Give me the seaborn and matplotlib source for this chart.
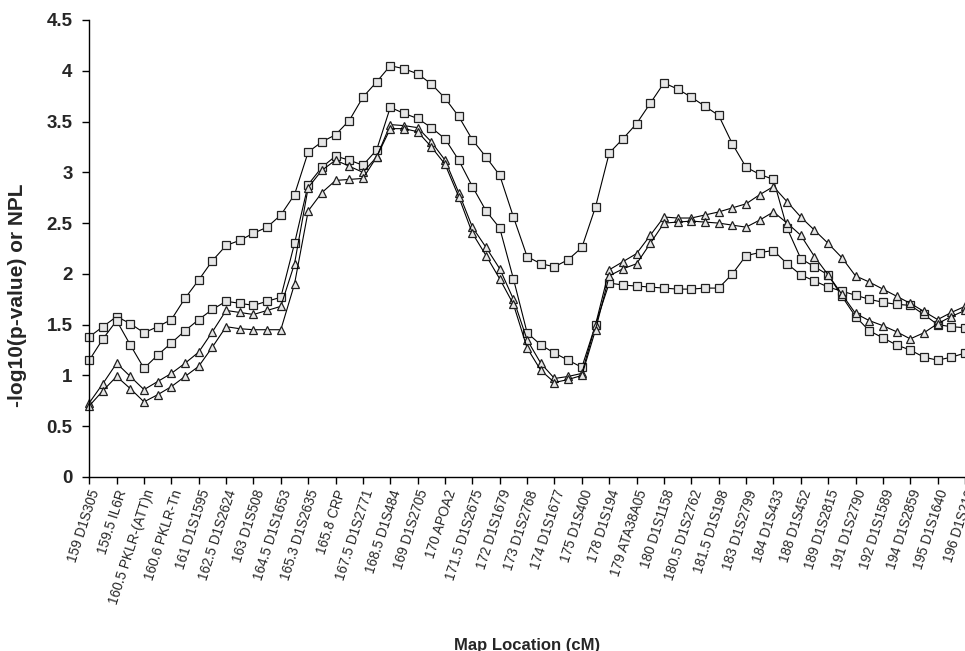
import numpy as np
import pandas as pd
import matplotlib
matplotlib.use("Agg")
import matplotlib.pyplot as plt
import seaborn as sns

# ---- data -------------------------------------------------------------
tick_labels = [
    "159 D1S305", "159.5 IL6R", "160.5 PKLR-(ATT)n", "160.6 PKLR-Tn",
    "161 D1S1595", "162.5 D1S2624", "163 D1S508", "164.5 D1S1653",
    "165.3 D1S2635", "165.8 CRP", "167.5 D1S2771", "168.5 D1S484",
    "169 D1S2705", "170 APOA2", "171.5 D1S2675", "172 D1S1679",
    "173 D1S2768", "174 D1S1677", "175 D1S400", "178 D1S194",
    "179 ATA38A05", "180 D1S1158", "180.5 D1S2762", "181.5 D1S198",
    "183 D1S2799", "184 D1S433", "188 D1S452", "189 D1S2815",
    "191 D1S2790", "192 D1S1589", "194 D1S2859", "195 D1S1640",
    "196 D1S212",
]

# values read at every half category step (0, 0.5, 1, ... 32)
series_a = [1.38, 1.48, 1.58, 1.51, 1.42, 1.48, 1.55, 1.76, 1.94, 2.13,
            2.28, 2.33, 2.40, 2.46, 2.58, 2.78, 3.20, 3.30, 3.37, 3.51,
            3.74, 3.89, 4.05, 4.02, 3.97, 3.87, 3.73, 3.55, 3.32, 3.15,
            2.97, 2.56, 2.17, 2.10, 2.07, 2.14, 2.26, 2.66, 3.19, 3.33,
            3.48, 3.68, 3.88, 3.82, 3.74, 3.65, 3.56, 3.28, 3.05, 2.98,
            2.93, 2.45, 2.15, 2.07, 1.99, 1.78, 1.58, 1.44, 1.37, 1.30,
            1.25, 1.18, 1.15, 1.18, 1.22]
series_b = [1.15, 1.36, 1.54, 1.30, 1.07, 1.20, 1.32, 1.44, 1.55, 1.65,
            1.73, 1.71, 1.69, 1.73, 1.77, 2.30, 2.88, 3.05, 3.16, 3.12,
            3.07, 3.22, 3.64, 3.58, 3.53, 3.44, 3.33, 3.12, 2.86, 2.62,
            2.45, 1.95, 1.42, 1.30, 1.22, 1.15, 1.08, 1.50, 1.91, 1.89,
            1.88, 1.87, 1.86, 1.85, 1.85, 1.86, 1.86, 2.00, 2.18, 2.21,
            2.23, 2.10, 1.99, 1.93, 1.87, 1.83, 1.79, 1.75, 1.72, 1.70,
            1.69, 1.60, 1.50, 1.48, 1.47]
series_c = [0.73, 0.92, 1.12, 0.99, 0.86, 0.94, 1.02, 1.12, 1.23, 1.43,
            1.64, 1.62, 1.60, 1.64, 1.68, 2.10, 2.85, 3.02, 3.12, 3.06,
            3.00, 3.15, 3.47, 3.46, 3.44, 3.30, 3.12, 2.80, 2.46, 2.26,
            2.05, 1.75, 1.35, 1.12, 0.97, 0.99, 1.02, 1.50, 2.04, 2.12,
            2.20, 2.38, 2.56, 2.55, 2.55, 2.58, 2.61, 2.65, 2.69, 2.78,
            2.86, 2.71, 2.56, 2.43, 2.30, 2.16, 1.98, 1.92, 1.85, 1.78,
            1.71, 1.63, 1.55, 1.62, 1.68]
series_d = [0.70, 0.85, 0.99, 0.87, 0.74, 0.81, 0.89, 0.99, 1.09, 1.28,
            1.48, 1.46, 1.45, 1.45, 1.45, 1.90, 2.62, 2.80, 2.92, 2.93,
            2.94, 3.15, 3.43, 3.43, 3.40, 3.25, 3.08, 2.76, 2.40, 2.18,
            1.95, 1.70, 1.27, 1.05, 0.93, 0.96, 1.00, 1.45, 1.98, 2.05,
            2.10, 2.30, 2.50, 2.51, 2.52, 2.51, 2.50, 2.48, 2.46, 2.53,
            2.61, 2.50, 2.38, 2.17, 1.99, 1.80, 1.61, 1.54, 1.49, 1.43,
            1.36, 1.42, 1.51, 1.58, 1.64]

y_ticks = [0, 0.5, 1, 1.5, 2, 2.5, 3, 3.5, 4, 4.5]

# ---- plot -------------------------------------------------------------
sns.set_style("white")
plt.rcParams["font.family"] = ["Liberation Sans", "DejaVu Sans"]

fig = plt.figure(figsize=(9.65, 6.51), dpi=100)
ax = fig.add_axes([0.0925, 0.2673, 0.9075, 0.702])

pos = np.arange(len(series_a)) / 2.0
series = [("A", series_a, "s"), ("B", series_b, "s"),
          ("C", series_c, "^"), ("D", series_d, "^")]
for name, vals, mk in series:
    sns.lineplot(x=pos, y=vals, ax=ax, color="black", linewidth=0.8,
                 marker=mk, markersize=5.5, markerfacecolor="#e6e6e6",
                 markeredgecolor="#202020", markeredgewidth=0.9,
                 clip_on=False, legend=False)

ax.set_xlim(0, len(tick_labels) - 1)
ax.set_ylim(0, 4.5)
ax.set_yticks(y_ticks)
ax.set_yticklabels([f"{t:g}" for t in y_ticks], fontsize=13.5, fontweight="bold")
ax.set_xticks(np.arange(len(tick_labels)))
ax.set_xticklabels(tick_labels, rotation=72, ha="right", va="top",
                   rotation_mode="anchor", fontsize=9.8)

for s in ["top", "right"]:
    ax.spines[s].set_visible(False)
for s in ["left", "bottom"]:
    ax.spines[s].set_color("black")
    ax.spines[s].set_linewidth(1.0)
ax.tick_params(axis="both", which="major", direction="out", length=5,
               width=1, color="black", left=True, bottom=True)
ax.tick_params(axis="y", pad=7)
ax.tick_params(axis="x", pad=3)

ax.set_ylabel("-log10(p-value) or NPL", fontsize=15, fontweight="bold")
ax.yaxis.set_label_coords(-0.071, 0.398)
ax.set_xlabel("Map Location (cM)", fontsize=12, fontweight="bold")
ax.xaxis.set_label_coords(0.5, -0.352)

fig.savefig("out.png", dpi=100)
